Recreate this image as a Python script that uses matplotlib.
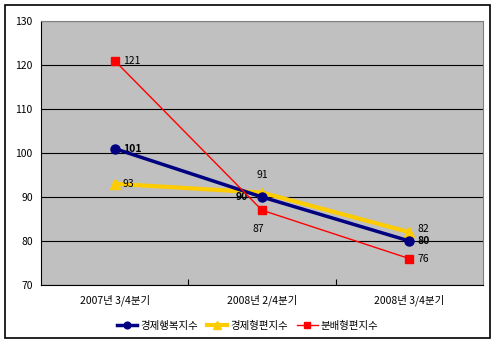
import matplotlib
matplotlib.use("Agg")
import matplotlib.pyplot as plt
from matplotlib.patches import Rectangle

plt.rcParams['font.family'] = ['Noto Sans CJK KR', 'DejaVu Sans']

categories = ["2007년 3/4분기", "2008년 2/4분기", "2008년 3/4분기"]
happiness = [101, 90, 80]
growth = [93, 91, 82]
distribution = [121, 87, 76]
series_names = ["경제행복지수", "경제형편지수", "분배형편지수"]
yticks = [70, 80, 90, 100, 110, 120, 130]

fig = plt.figure(figsize=(4.95, 3.44), dpi=100)
fig.patches.append(Rectangle((5/495, 1-338/344), 485/495, 333/344, transform=fig.transFigure,
                             fill=False, edgecolor='black', linewidth=1.2))
ax = fig.add_axes([41/495, 1-285/344, 442/495, 264/344])
ax.set_facecolor('#c0c0c0')
x = list(range(len(categories)))

ax.plot(x, growth, color='#ffcc00', lw=3, marker='^', ms=7, label=series_names[1], zorder=3)
ax.plot(x, happiness, color='#000080', lw=2.5, marker='o', ms=6.5, label=series_names[0], zorder=4)
ax.plot(x, distribution, color='#ff0000', lw=1, marker='s', ms=5.5, label=series_names[2], zorder=5)

fs = 7.5
ax.annotate(str(happiness[0]), (0, happiness[0]), xytext=(6, 0), textcoords='offset points', fontsize=fs, fontweight='bold', va='center', ha='left')
ax.annotate(str(happiness[1]), (1, happiness[1]), xytext=(-10, 0), textcoords='offset points', fontsize=fs, fontweight='bold', va='center', ha='right')
ax.annotate(str(happiness[2]), (2, happiness[2]), xytext=(6, 0), textcoords='offset points', fontsize=fs, fontweight='bold', va='center', ha='left')
ax.annotate(str(growth[0]), (0, growth[0]), xytext=(6, 0), textcoords='offset points', fontsize=fs, va='center', ha='left')
ax.annotate(str(growth[1]), (1, growth[1]), xytext=(0, 9), textcoords='offset points', fontsize=fs, va='bottom', ha='center')
ax.annotate(str(growth[2]), (2, growth[2]), xytext=(6, 2), textcoords='offset points', fontsize=fs, va='center', ha='left')
ax.annotate(str(distribution[0]), (0, distribution[0]), xytext=(6, 0), textcoords='offset points', fontsize=fs, va='center', ha='left')
ax.annotate(str(distribution[1]), (1, distribution[1]), xytext=(-3, -10), textcoords='offset points', fontsize=fs, va='top', ha='center')
ax.annotate(str(distribution[2]), (2, distribution[2]), xytext=(6, 0), textcoords='offset points', fontsize=fs, va='center', ha='left')

ax.set_xlim(-0.5, 2.5)
ax.set_ylim(70, 130)
ax.set_yticks(yticks)
ax.set_yticklabels([str(v) for v in yticks], fontsize=fs)
ax.yaxis.grid(True, color='black', lw=0.8)
ax.set_axisbelow(True)
ax.tick_params(axis='y', length=0, pad=6)
ax.set_xticks([0.5, 1.5])
ax.set_xticklabels([])
ax.set_xticks(x, minor=True)
ax.set_xticklabels(categories, minor=True, fontsize=fs)
ax.tick_params(axis='x', which='major', length=4, direction='in')
ax.tick_params(axis='x', which='minor', length=0, pad=7)
for s in ['top', 'right']:
    ax.spines[s].set_color('#808080')
for s in ['left', 'bottom']:
    ax.spines[s].set_color('black')

h, l = ax.get_legend_handles_labels()
order = [1, 0, 2]
fig.legend([h[i] for i in order], [l[i] for i in order], loc='center', bbox_to_anchor=(0.5, 1-326/344),
           ncol=3, frameon=False, fontsize=fs, handlelength=2.0, handletextpad=0.3, columnspacing=0.8,
           markerscale=0.75)

fig.savefig('out.png', dpi=100)
